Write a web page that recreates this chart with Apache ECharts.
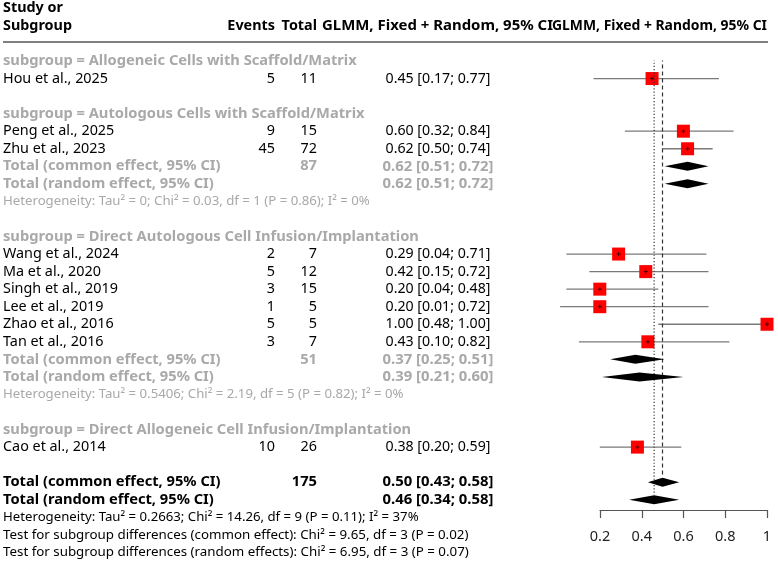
<!DOCTYPE html>
<html>
<head>
<meta charset="utf-8">
<script src="https://cdn.jsdelivr.net/npm/echarts@6/dist/echarts.min.js"></script>
<style>
  html, body { margin: 0; padding: 0; background: #fff; }
  #chart { width: 778px; height: 564px; }
</style>
</head>
<body>
<div id="chart"></div>
<script>
// forest plot: proportions by subgroup

const subgroupNames = [
  'Allogeneic Cells with Scaffold/Matrix',
  'Autologous Cells with Scaffold/Matrix',
  'Direct Autologous Cell Infusion/Implantation',
  'Direct Allogeneic Cell Infusion/Implantation'
]

const studyNames = [
  'Hou et al., 2025', 'Peng et al., 2025', 'Zhu et al., 2023', 'Wang et al., 2024',
  'Ma et al., 2020', 'Singh et al., 2019', 'Lee et al., 2019', 'Zhao et al., 2016',
  'Tan et al., 2016', 'Cao et al., 2014'
]
const studyGroup = [0, 1, 1, 2, 2, 2, 2, 2, 2, 3]
const studyEvents = [5, 9, 45, 2, 5, 3, 1, 5, 3, 10]
const studyTotal = [11, 15, 72, 7, 12, 15, 5, 5, 7, 26]
const studyEst = [0.45, 0.60, 0.62, 0.29, 0.42, 0.20, 0.20, 1.00, 0.43, 0.38]
const studyLower = [0.17, 0.32, 0.50, 0.04, 0.15, 0.04, 0.01, 0.48, 0.10, 0.20]
const studyUpper = [0.77, 0.84, 0.74, 0.71, 0.72, 0.48, 0.72, 1.00, 0.82, 0.59]

// pooled results, only for subgroups with more than one study
const pooledGroups = [1, 2]
const pooledTotal = [87, 51]
const commonEst = [0.62, 0.37]
const commonLower = [0.51, 0.25]
const commonUpper = [0.72, 0.51]
const randomEst = [0.62, 0.39]
const randomLower = [0.51, 0.21]
const randomUpper = [0.72, 0.60]
const groupHet = [
  'Heterogeneity: Tau² = 0; Chi² = 0.03, df = 1 (P = 0.86); I² = 0%',
  'Heterogeneity: Tau² = 0.5406; Chi² = 2.19, df = 5 (P = 0.82); I² = 0%'
]

// overall: [estimate, lower, upper]
const overallTotal = 175
const overallCommon = [0.50, 0.43, 0.58]
const overallRandom = [0.46, 0.34, 0.58]
const overallHet = 'Heterogeneity: Tau² = 0.2663; Chi² = 14.26, df = 9 (P = 0.11); I² = 37%'
const subgroupTests = [
  'Test for subgroup differences (common effect): Chi² = 9.65, df = 3 (P = 0.02)',
  'Test for subgroup differences (random effects): Chi² = 6.95, df = 3 (P = 0.07)'
]

const headerTitle = 'GLMM, Fixed + Random, 95% CI'
const axisTicks = [0.2, 0.4, 0.6, 0.8, 1]

// column layout (px)
const X_LABEL = 3
const X_EVENTS = 275
const X_TOTAL = 317
const X_EFFECT = 438
const GRAY = '#a9a9a9'
const BLACK = '#000'
const FONT = '"Noto Sans", "DejaVu Sans", sans-serif'

// font sizes fitted so that sample strings get the widths they have in the original
const measureCtx = document.createElement('canvas').getContext('2d')
function fitSize(text, bold, width) {
  measureCtx.font = (bold ? 'bold ' : '') + '100px ' + FONT
  return 100 * width / measureCtx.measureText(text).width
}
const SIZE_BODY = fitSize('Hou et al., 2025', false, 105)
const SIZE_BOLD = fitSize('subgroup = Allogeneic Cells with Scaffold/Matrix', true, 354)
const SIZE_HET = fitSize(overallHet, false, 416)
const SIZE_TEST = fitSize(subgroupTests[0], false, 466)
const SIZE_EFF = fitSize('0.45 [0.17; 0.77]', false, 105)
const SIZE_EFF_BOLD = fitSize('0.62 [0.51; 0.72]', true, 111)
const SIZE_HEAD = fitSize('Subgroup', true, 69)
const SIZE_HEAD_1 = fitSize(headerTitle, true, 231)
const SIZE_HEAD_2 = fitSize(headerTitle, true, 215)

// build the rows of the table
const rows = []
subgroupNames.forEach((name, g) => {
  rows.push({ kind: 'subgroup', text: 'subgroup = ' + name })
  studyNames.forEach((s, i) => {
    if (studyGroup[i] === g) rows.push({ kind: 'study', i })
  })
  const p = pooledGroups.indexOf(g)
  if (p >= 0) {
    rows.push({ kind: 'groupCommon', p })
    rows.push({ kind: 'groupRandom', p })
    rows.push({ kind: 'groupHet', p })
  }
  rows.push({ kind: 'blank' })
})
rows.push({ kind: 'overallCommon' })
rows.push({ kind: 'overallRandom' })
rows.push({ kind: 'het', text: overallHet })
subgroupTests.forEach(t => rows.push({ kind: 'note', text: t }))

const fmt = (e, l, u) => e.toFixed(2) + ' [' + l.toFixed(2) + '; ' + u.toFixed(2) + ']'

const studyData = []
const diamondData = []
let commonRow = 0
let randomRow = 0
rows.forEach((r, k) => {
  if (r.kind === 'study') {
    studyData.push([studyEst[r.i], k, studyLower[r.i], studyUpper[r.i]])
  } else if (r.kind === 'groupCommon') {
    diamondData.push([commonEst[r.p], k, commonLower[r.p], commonUpper[r.p]])
  } else if (r.kind === 'groupRandom') {
    diamondData.push([randomEst[r.p], k, randomLower[r.p], randomUpper[r.p]])
  } else if (r.kind === 'overallCommon') {
    diamondData.push([overallCommon[0], k, overallCommon[1], overallCommon[2]])
    commonRow = k
  } else if (r.kind === 'overallRandom') {
    diamondData.push([overallRandom[0], k, overallRandom[1], overallRandom[2]])
    randomRow = k
  }
})

function txt(text, x, y, align, color, bold, size) {
  return {
    type: 'text',
    style: {
      text: String(text), x, y, align, verticalAlign: 'middle',
      fill: color, font: (bold ? 'bold ' : '') + size.toFixed(2) + 'px ' + FONT
    }
  }
}

function renderText(params, api) {
  const r = rows[params.dataIndex]
  const y = api.coord([0, params.dataIndex])[1]
  const out = []
  if (r.kind === 'subgroup') {
    out.push(txt(r.text, X_LABEL, y, 'left', GRAY, true, SIZE_BOLD))
  } else if (r.kind === 'study') {
    const i = r.i
    out.push(txt(studyNames[i], X_LABEL, y, 'left', BLACK, false, SIZE_BODY))
    out.push(txt(studyEvents[i], X_EVENTS, y, 'right', BLACK, false, SIZE_BODY))
    out.push(txt(studyTotal[i], X_TOTAL, y, 'right', BLACK, false, SIZE_BODY))
    out.push(txt(fmt(studyEst[i], studyLower[i], studyUpper[i]), X_EFFECT, y, 'center', BLACK, false, SIZE_EFF))
  } else if (r.kind === 'groupCommon') {
    out.push(txt('Total (common effect, 95% CI)', X_LABEL, y, 'left', GRAY, true, SIZE_BOLD))
    out.push(txt(pooledTotal[r.p], X_TOTAL, y, 'right', GRAY, true, SIZE_BOLD))
    out.push(txt(fmt(commonEst[r.p], commonLower[r.p], commonUpper[r.p]), X_EFFECT, y, 'center', GRAY, true, SIZE_EFF_BOLD))
  } else if (r.kind === 'groupRandom') {
    out.push(txt('Total (random effect, 95% CI)', X_LABEL, y, 'left', GRAY, true, SIZE_BOLD))
    out.push(txt(fmt(randomEst[r.p], randomLower[r.p], randomUpper[r.p]), X_EFFECT, y, 'center', GRAY, true, SIZE_EFF_BOLD))
  } else if (r.kind === 'groupHet') {
    out.push(txt(groupHet[r.p], X_LABEL, y, 'left', GRAY, false, SIZE_HET))
  } else if (r.kind === 'overallCommon') {
    out.push(txt('Total (common effect, 95% CI)', X_LABEL, y, 'left', BLACK, true, SIZE_BOLD))
    out.push(txt(overallTotal, X_TOTAL, y, 'right', BLACK, true, SIZE_BOLD))
    out.push(txt(fmt(overallCommon[0], overallCommon[1], overallCommon[2]), X_EFFECT, y, 'center', BLACK, true, SIZE_EFF_BOLD))
  } else if (r.kind === 'overallRandom') {
    out.push(txt('Total (random effect, 95% CI)', X_LABEL, y, 'left', BLACK, true, SIZE_BOLD))
    out.push(txt(fmt(overallRandom[0], overallRandom[1], overallRandom[2]), X_EFFECT, y, 'center', BLACK, true, SIZE_EFF_BOLD))
  } else if (r.kind === 'het') {
    out.push(txt(r.text, X_LABEL, y, 'left', BLACK, false, SIZE_HET))
  } else if (r.kind === 'note') {
    out.push(txt(r.text, X_LABEL, y, 'left', BLACK, false, SIZE_TEST))
  }
  return { type: 'group', children: out }
}

function renderStudy(params, api) {
  const c = api.coord([api.value(0), api.value(1)])
  const lo = api.coord([api.value(2), api.value(1)])
  const hi = api.coord([api.value(3), api.value(1)])
  const s = 13
  return {
    type: 'group',
    children: [
      { type: 'line', shape: { x1: lo[0], y1: c[1], x2: hi[0], y2: c[1] },
        style: { stroke: '#7a7a7a', lineWidth: 1.3 } },
      { type: 'rect', shape: { x: c[0] - s / 2, y: c[1] - s / 2, width: s, height: s },
        style: { fill: '#ff0000' } },
      { type: 'line', shape: { x1: c[0] - 2, y1: c[1], x2: c[0] + 2, y2: c[1] },
        style: { stroke: '#400', lineWidth: 1 } },
      { type: 'line', shape: { x1: c[0], y1: c[1] - 2, x2: c[0], y2: c[1] + 2 },
        style: { stroke: '#400', lineWidth: 1 } }
    ]
  }
}

function renderDiamond(params, api) {
  const c = api.coord([api.value(0), api.value(1)])
  const lo = api.coord([api.value(2), api.value(1)])
  const hi = api.coord([api.value(3), api.value(1)])
  const h = 4.5
  return {
    type: 'polygon',
    shape: { points: [[lo[0], c[1]], [c[0], c[1] - h], [hi[0], c[1]], [c[0], c[1] + h]] },
    style: { fill: '#000' }
  }
}

function headText(text, x, y, align, size) {
  return {
    type: 'text',
    style: { text, x, y, align, verticalAlign: 'middle', font: 'bold ' + size.toFixed(2) + 'px ' + FONT, fill: '#000' }
  }
}

const chart = echarts.init(document.getElementById('chart'))

chart.setOption({
  animation: false,
  backgroundColor: '#fff',
  grid: [
    { left: 558, right: 11, top: 61, bottom: 11.6 },
    { left: 600, right: 11, top: 509, bottom: 54 }
  ],
  xAxis: [
    { type: 'value', gridIndex: 0, min: 0, max: 1, show: false },
    {
      type: 'value', gridIndex: 1, min: 0.2, max: 1, interval: 0.2,
      axisLine: { show: true, lineStyle: { color: '#555', width: 1.2 } },
      axisTick: { show: true, length: 8, lineStyle: { color: '#555', width: 1.2 } },
      axisLabel: {
        margin: 19, fontSize: 14.5, color: '#222', fontFamily: FONT,
        formatter: v => {
          const t = axisTicks.find(a => Math.abs(a - v) < 1e-6)
          return t === undefined ? '' : String(t)
        }
      },
      splitLine: { show: false }
    }
  ],
  yAxis: [
    { type: 'value', gridIndex: 0, min: 0, max: 28, inverse: true, show: false },
    { type: 'value', gridIndex: 1, show: false }
  ],
  graphic: [
    headText('Study or', X_LABEL, 8, 'left', SIZE_HEAD),
    headText('Subgroup', X_LABEL, 26, 'left', SIZE_HEAD),
    headText('Events', X_EVENTS, 26, 'right', SIZE_HEAD),
    headText('Total', X_TOTAL, 26, 'right', SIZE_HEAD),
    headText(headerTitle, 437.5, 26, 'center', SIZE_HEAD_1),
    headText(headerTitle, 659.5, 26, 'center', SIZE_HEAD_2),
    { type: 'line', shape: { x1: 3, y1: 42, x2: 768, y2: 42 }, style: { stroke: '#555', lineWidth: 1.5 } }
  ],
  series: [
    {
      name: 'common ref', type: 'line', xAxisIndex: 0, yAxisIndex: 0, symbol: 'none',
      data: [[overallCommon[0], -1.0], [overallCommon[0], commonRow - 0.27]],
      lineStyle: { color: '#333', width: 1.2, type: [4, 3] }
    },
    {
      name: 'random ref', type: 'line', xAxisIndex: 0, yAxisIndex: 0, symbol: 'none',
      data: [[overallRandom[0], -1.0], [overallRandom[0], randomRow - 0.27]],
      lineStyle: { color: '#333', width: 1.2, type: [1.2, 2] }
    },
    {
      name: 'studies', type: 'custom', xAxisIndex: 0, yAxisIndex: 0,
      renderItem: renderStudy, data: studyData, z: 3
    },
    {
      name: 'diamonds', type: 'custom', xAxisIndex: 0, yAxisIndex: 0,
      renderItem: renderDiamond, data: diamondData, z: 4
    },
    {
      name: 'table', type: 'custom', xAxisIndex: 0, yAxisIndex: 0, clip: false,
      renderItem: renderText, data: rows.map((r, k) => [0, k]), z: 5
    }
  ]
})
</script>
</body>
</html>
